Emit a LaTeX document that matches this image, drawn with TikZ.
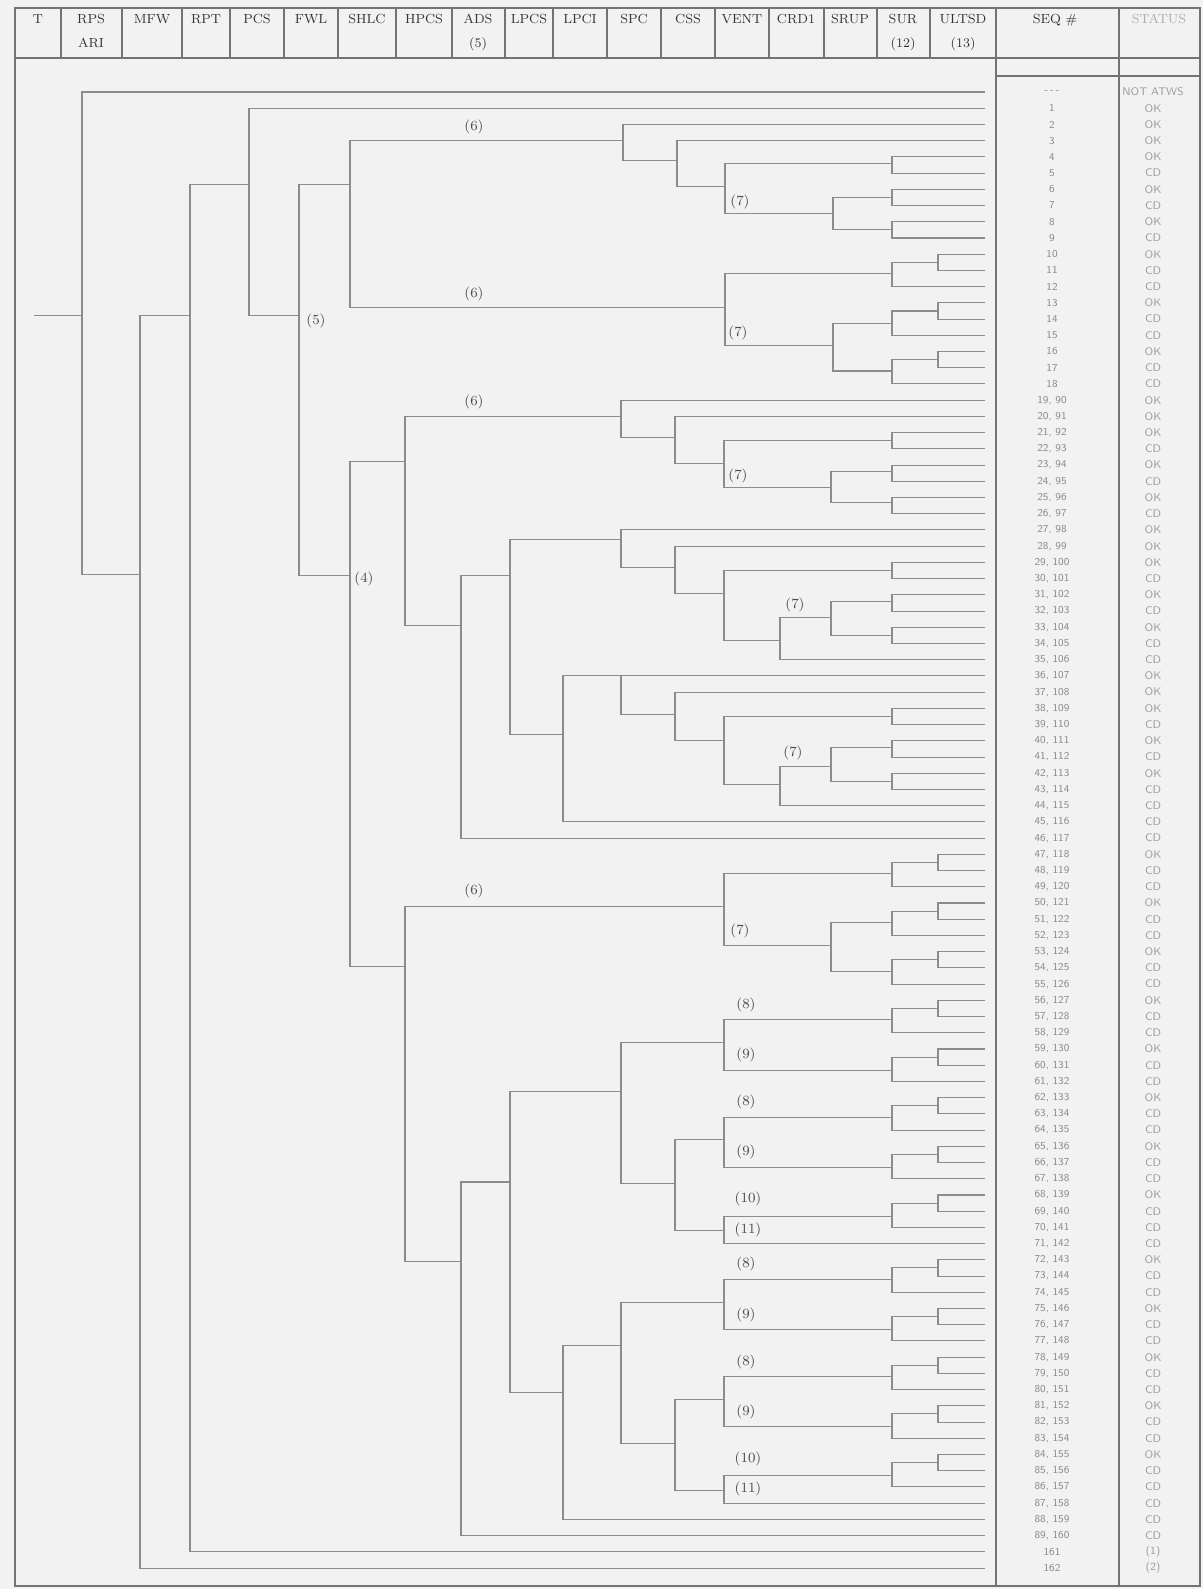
\documentclass[tikz,border=0pt]{standalone}
\newcommand{\rowy}[1]{(92+16.22*(#1))}
\newcommand{\brk}[3]{\draw[tl] (#2) -- (#1 |- #2) -- (#1 |- #3) -- (#3);}
\begin{document}
\begin{tikzpicture}[x=0.02cm,y=-0.02cm,
  tl/.style={draw=black!45,line width=0.6pt},
  frm/.style={draw=black!55,line width=0.75pt},
  hdr/.style={font=\fontsize{7.5}{13.6}\selectfont,text=black!80,align=center,inner sep=0pt,anchor=north},
  lbl/.style={font=\fontsize{8}{9}\selectfont,text=black!70,inner sep=0pt},
  seqt/.style={font=\sffamily\fontsize{6}{6.5}\selectfont,text=black!45,inner sep=0pt},
  stt/.style={font=\sffamily\fontsize{6.3}{7}\selectfont,text=black!38,inner sep=0pt}]
\fill[black!5] (0,0) rectangle (1203,1589);
\useasboundingbox (0,0) rectangle (1203,1589);
% frame and header
\draw[frm] (15,8) rectangle (1200,1586);
\draw[frm] (15,58) -- (1200,58);
\draw[frm] (996,76) -- (1200,76);
\foreach \x in {61,122,182,230,284,338,396,452,505,553,607,661,715,769,824,877,930}
  \draw[frm] (\x,8) -- (\x,58);
\draw[frm] (996,8) -- (996,1586);
\draw[frm] (1119,8) -- (1119,1586);
\node[hdr] (hT) at (38,14) {T};
\node[hdr] (hRPS) at (91,14) {RPS\\ARI};
\node[hdr] (hMFW) at (152,14) {MFW};
\node[hdr] (hRPT) at (206,14) {RPT};
\node[hdr] (hPCS) at (257,14) {PCS};
\node[hdr] (hFWL) at (311,14) {FWL};
\node[hdr] (hSHLC) at (367,14) {SHLC};
\node[hdr] (hHPCS) at (424,14) {HPCS};
\node[hdr] (hADS) at (478,14) {ADS\\(5)};
\node[hdr] (hLPCS) at (529,14) {LPCS};
\node[hdr] (hLPCI) at (580,14) {LPCI};
\node[hdr] (hSPC) at (634,14) {SPC};
\node[hdr] (hCSS) at (688,14) {CSS};
\node[hdr] (hVENT) at (742,14) {VENT};
\node[hdr] (hCRD) at (796,14) {CRD1};
\node[hdr] (hSRUP) at (850,14) {SRUP};
\node[hdr] (hSUR) at (903,14) {SUR\\(12)};
\node[hdr] (hULT) at (963,14) {ULTSD\\(13)};
\node[hdr] (hSEQ) at (1055,14) {SEQ \#};
\node[hdr,text=black!32] (hST) at (1159,14) {STATUS};
% leaves
\foreach \i in {0,...,91} \coordinate (L\i) at (985,{\rowy{\i}});
% branch points
\coordinate (init) at (34,{\rowy{13.8}});
\coordinate (rps) at (82,{\rowy{13.8}});
\coordinate (mfw) at (140,{\rowy{29.75}});
\coordinate (rpt) at (190,{\rowy{13.8}});
\coordinate (pcs) at (249,{\rowy{5.7}});
\coordinate (fwl) at (299,{\rowy{13.8}});
\coordinate (shA) at (350,{\rowy{5.7}});
\coordinate (spA) at (623,{\rowy{3}});
\coordinate (csA) at (677,{\rowy{4.2}});
\coordinate (veA) at (725,{\rowy{5.8}});
\coordinate (suA) at (892,{\rowy{4.4}});
\coordinate (srA) at (833,{\rowy{7.5}});
\coordinate (suB) at (892,{\rowy{6.5}});
\coordinate (suC) at (892,{\rowy{8.5}});
\coordinate (veB) at (725,{\rowy{13.3}});
\coordinate (suD) at (892,{\rowy{11.2}});
\coordinate (ulA) at (938,{\rowy{10.5}});
\coordinate (srB) at (833,{\rowy{15.6}});
\coordinate (suE) at (892,{\rowy{14.3}});
\coordinate (ulB) at (938,{\rowy{13.5}});
\coordinate (suF) at (892,{\rowy{17.2}});
\coordinate (ulC) at (938,{\rowy{16.5}});
\coordinate (shB) at (350,{\rowy{29.8}});
\coordinate (hpA) at (405,{\rowy{22.8}});
\coordinate (spB) at (621,{\rowy{20}});
\coordinate (csB) at (675,{\rowy{21.3}});
\coordinate (veC) at (724,{\rowy{22.9}});
\coordinate (suG) at (892,{\rowy{21.5}});
\coordinate (srC) at (831,{\rowy{24.4}});
\coordinate (suH) at (892,{\rowy{23.4}});
\coordinate (suI) at (892,{\rowy{25.3}});
\coordinate (adA) at (461,{\rowy{32.9}});
\coordinate (lpA) at (510,{\rowy{29.8}});
\coordinate (spC) at (621,{\rowy{27.6}});
\coordinate (csC) at (675,{\rowy{29.3}});
\coordinate (veD) at (724,{\rowy{30.9}});
\coordinate (suJ) at (892,{\rowy{29.5}});
\coordinate (crA) at (780,{\rowy{33.8}});
\coordinate (srD) at (831,{\rowy{32.4}});
\coordinate (suK) at (892,{\rowy{31.4}});
\coordinate (suL) at (892,{\rowy{33.5}});
\coordinate (liA) at (563,{\rowy{39.6}});
\coordinate (spD) at (621,{\rowy{36}});
\coordinate (csD) at (675,{\rowy{38.4}});
\coordinate (veE) at (724,{\rowy{40}});
\coordinate (suM) at (892,{\rowy{38.5}});
\coordinate (crB) at (780,{\rowy{42.7}});
\coordinate (srE) at (831,{\rowy{41.6}});
\coordinate (suN) at (892,{\rowy{40.4}});
\coordinate (suO) at (892,{\rowy{42.5}});
\coordinate (hpB) at (405,{\rowy{53.9}});
\coordinate (veF) at (724,{\rowy{50.2}});
\coordinate (suP) at (892,{\rowy{48.2}});
\coordinate (ulD) at (938,{\rowy{47.5}});
\coordinate (srF) at (831,{\rowy{52.6}});
\coordinate (suQ) at (892,{\rowy{51.2}});
\coordinate (ulE) at (938,{\rowy{50.5}});
\coordinate (suR) at (892,{\rowy{54.2}});
\coordinate (ulF) at (938,{\rowy{53.5}});
\coordinate (adB) at (461,{\rowy{72.1}});
\coordinate (lpB) at (510,{\rowy{67.2}});
\coordinate (spE) at (621,{\rowy{61.6}});
\coordinate (veG) at (724,{\rowy{58.6}});
\coordinate (suS) at (892,{\rowy{57.2}});
\coordinate (ulG) at (938,{\rowy{56.5}});
\coordinate (suT) at (892,{\rowy{60.3}});
\coordinate (ulH) at (938,{\rowy{59.5}});
\coordinate (csE) at (675,{\rowy{67.3}});
\coordinate (veH) at (724,{\rowy{64.6}});
\coordinate (suU) at (892,{\rowy{63.2}});
\coordinate (ulI) at (938,{\rowy{62.5}});
\coordinate (suV) at (892,{\rowy{66.3}});
\coordinate (ulJ) at (938,{\rowy{65.5}});
\coordinate (veI) at (724,{\rowy{70.2}});
\coordinate (suW) at (892,{\rowy{69.3}});
\coordinate (ulK) at (938,{\rowy{68.5}});
\coordinate (liB) at (563,{\rowy{80.2}});
\coordinate (spF) at (621,{\rowy{77.3}});
\coordinate (veJ) at (724,{\rowy{74.6}});
\coordinate (suX) at (892,{\rowy{73.2}});
\coordinate (ulL) at (938,{\rowy{72.5}});
\coordinate (suY) at (892,{\rowy{76.3}});
\coordinate (ulM) at (938,{\rowy{75.5}});
\coordinate (csF) at (675,{\rowy{83.3}});
\coordinate (veK) at (724,{\rowy{80.6}});
\coordinate (suZ) at (892,{\rowy{79.2}});
\coordinate (ulN) at (938,{\rowy{78.5}});
\coordinate (suAA) at (892,{\rowy{82.3}});
\coordinate (ulO) at (938,{\rowy{81.5}});
\coordinate (veL) at (724,{\rowy{86.2}});
\coordinate (suAB) at (892,{\rowy{85.3}});
\coordinate (ulP) at (938,{\rowy{84.5}});
% tree
\draw[tl] (init) -- (rps);
\brk{rps}{L0}{mfw}
\brk{mfw}{rpt}{L91}
\brk{rpt}{pcs}{L90}
\brk{pcs}{L1}{fwl}
\brk{fwl}{shA}{shB}
\brk{shA}{spA}{veB}
\brk{spA}{L2}{csA}
\brk{csA}{L3}{veA}
\brk{veA}{suA}{srA}
\brk{suA}{L4}{L5}
\brk{srA}{suB}{suC}
\brk{suB}{L6}{L7}
\brk{suC}{L8}{L9}
\brk{veB}{suD}{srB}
\brk{suD}{ulA}{L12}
\brk{ulA}{L10}{L11}
\brk{srB}{suE}{suF}
\brk{suE}{ulB}{L15}
\brk{ulB}{L13}{L14}
\brk{suF}{ulC}{L18}
\brk{ulC}{L16}{L17}
\brk{shB}{hpA}{hpB}
\brk{hpA}{spB}{adA}
\brk{spB}{L19}{csB}
\brk{csB}{L20}{veC}
\brk{veC}{suG}{srC}
\brk{suG}{L21}{L22}
\brk{srC}{suH}{suI}
\brk{suH}{L23}{L24}
\brk{suI}{L25}{L26}
\brk{adA}{lpA}{L46}
\brk{lpA}{spC}{liA}
\brk{spC}{L27}{csC}
\brk{csC}{L28}{veD}
\brk{veD}{suJ}{crA}
\brk{suJ}{L29}{L30}
\brk{crA}{srD}{L35}
\brk{srD}{suK}{suL}
\brk{suK}{L31}{L32}
\brk{suL}{L33}{L34}
\brk{liA}{spD}{L45}
\brk{spD}{L36}{csD}
\brk{csD}{L37}{veE}
\brk{veE}{suM}{crB}
\brk{suM}{L38}{L39}
\brk{crB}{srE}{L44}
\brk{srE}{suN}{suO}
\brk{suN}{L40}{L41}
\brk{suO}{L42}{L43}
\brk{hpB}{veF}{adB}
\brk{veF}{suP}{srF}
\brk{suP}{ulD}{L49}
\brk{ulD}{L47}{L48}
\brk{srF}{suQ}{suR}
\brk{suQ}{ulE}{L52}
\brk{ulE}{L50}{L51}
\brk{suR}{ulF}{L55}
\brk{ulF}{L53}{L54}
\brk{adB}{lpB}{L89}
\brk{lpB}{spE}{liB}
\brk{spE}{veG}{csE}
\brk{veG}{suS}{suT}
\brk{suS}{ulG}{L58}
\brk{ulG}{L56}{L57}
\brk{suT}{ulH}{L61}
\brk{ulH}{L59}{L60}
\brk{csE}{veH}{veI}
\brk{veH}{suU}{suV}
\brk{suU}{ulI}{L64}
\brk{ulI}{L62}{L63}
\brk{suV}{ulJ}{L67}
\brk{ulJ}{L65}{L66}
\brk{veI}{suW}{L71}
\brk{suW}{ulK}{L70}
\brk{ulK}{L68}{L69}
\brk{liB}{spF}{L88}
\brk{spF}{veJ}{csF}
\brk{veJ}{suX}{suY}
\brk{suX}{ulL}{L74}
\brk{ulL}{L72}{L73}
\brk{suY}{ulM}{L77}
\brk{ulM}{L75}{L76}
\brk{csF}{veK}{veL}
\brk{veK}{suZ}{suAA}
\brk{suZ}{ulN}{L80}
\brk{ulN}{L78}{L79}
\brk{suAA}{ulO}{L83}
\brk{ulO}{L81}{L82}
\brk{veL}{suAB}{L87}
\brk{suAB}{ulP}{L86}
\brk{ulP}{L84}{L85}
% branch labels
\node[lbl] (b5) at (316,{\rowy{13.8}+5}) {(5)};
\node[lbl] (b4) at (364,{\rowy{29.8}+4}) {(4)};
\node[lbl] (b6a) at (474,{\rowy{3}-14}) {(6)};
\node[lbl] (b6b) at (474,{\rowy{13.3}-14}) {(6)};
\node[lbl] (b6c) at (474,{\rowy{20}-14}) {(6)};
\node[lbl] (b6d) at (474,{\rowy{50.2}-15}) {(6)};
\node[lbl] (b7a) at (740,{\rowy{7.5}-12}) {(7)};
\node[lbl] (b7b) at (738,{\rowy{15.6}-12}) {(7)};
\node[lbl] (b7c) at (738,{\rowy{24.4}-12}) {(7)};
\node[lbl] (b7d) at (795,{\rowy{32.4}-13}) {(7)};
\node[lbl] (b7e) at (793,{\rowy{41.6}-14}) {(7)};
\node[lbl] (b7f) at (740,{\rowy{52.6}-14}) {(7)};
\node[lbl] (b8a) at (746,{\rowy{57.2}-15}) {(8)};
\node[lbl] (b9a) at (746,{\rowy{60.3}-15}) {(9)};
\node[lbl] (b8b) at (746,{\rowy{63.2}-15}) {(8)};
\node[lbl] (b9b) at (746,{\rowy{66.3}-15}) {(9)};
\node[lbl] (b10a) at (748,{\rowy{69.3}-17}) {(10)};
\node[lbl] (b11a) at (748,{\rowy{71}-14}) {(11)};
\node[lbl] (b8c) at (746,{\rowy{73.2}-15}) {(8)};
\node[lbl] (b9c) at (746,{\rowy{76.3}-15}) {(9)};
\node[lbl] (b8d) at (746,{\rowy{79.2}-15}) {(8)};
\node[lbl] (b9d) at (746,{\rowy{82.3}-15}) {(9)};
\node[lbl] (b10b) at (748,{\rowy{85.3}-17}) {(10)};
\node[lbl] (b11b) at (748,{\rowy{87}-14}) {(11)};
% sequence numbers
\node[seqt] (s0) at (1052,{\rowy{0}}) {-\,-\,-};
\foreach \i in {1,...,18} \node[seqt] (s\i) at (1052,{\rowy{\i}}) {\i};
\foreach \i in {19,...,89} {\pgfmathtruncatemacro{\j}{\i+71}\node[seqt] (s\i) at (1052,{\rowy{\i}}) {\i, \j};}
\node[seqt] (s90) at (1052,{\rowy{90}}) {161};
\node[seqt] (s91) at (1052,{\rowy{91}}) {162};
% status
\foreach \st [count=\i from 0] in {NOT ATWS,OK,OK,OK,OK,CD,OK,CD,OK,CD,OK,CD,CD,OK,CD,CD,OK,CD,CD,
  OK,OK,OK,CD,OK,CD,OK,CD,OK,OK,OK,CD,OK,CD,OK,CD,CD,OK,OK,OK,CD,OK,CD,OK,CD,CD,CD,CD,
  OK,CD,CD,OK,CD,CD,OK,CD,CD,OK,CD,CD,OK,CD,CD,OK,CD,CD,OK,CD,CD,OK,CD,CD,CD,
  OK,CD,CD,OK,CD,CD,OK,CD,CD,OK,CD,CD,OK,CD,CD,CD,CD,CD,{(1)},{(2)}}
  \node[stt] (t\i) at (1153,{\rowy{\i}}) {\st};
\end{tikzpicture}
\end{document}
